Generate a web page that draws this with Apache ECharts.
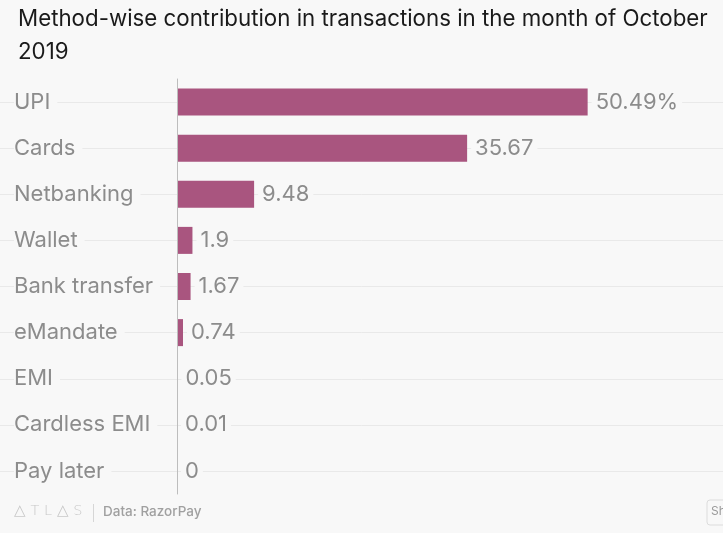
<!DOCTYPE html>
<html><head><meta charset="utf-8">
<script src="https://cdn.jsdelivr.net/npm/echarts@6/dist/echarts.min.js"></script>
<style>html,body{margin:0;padding:0;background:#f8f8f8;}#c{width:723px;height:533px;}</style>
</head><body><div id="c"></div>
<script>
const categories = ['UPI','Cards','Netbanking','Wallet','Bank transfer','eMandate','EMI','Cardless EMI','Pay later'];
const values = [50.49, 35.67, 9.48, 1.9, 1.67, 0.74, 0.05, 0.01, 0];
const titleText = 'Method-wise contribution in transactions in the month of October\n2019';
const sourceText = 'Data: RazorPay';

const bg = '#f8f8f8';
const chart = echarts.init(document.getElementById('c'));
chart.setOption({
  backgroundColor: bg,
  animation: false,
  title: {
    text: titleText, left: 13, top: -2,
    textStyle: {fontFamily: 'Inter', fontSize: 22.3, fontWeight: 'normal', color: '#1a1a1a', lineHeight: 33}
  },
  grid: [
    {left: 177, right: 58, top: 79, bottom: 39},
    {left: 0, right: 0, top: 102, bottom: 62}
  ],
  xAxis: [
    {gridIndex: 0, type: 'value', min: 0, max: 60, show: false},
    {gridIndex: 1, type: 'value', min: 0, max: 1, show: false}
  ],
  yAxis: [
    {gridIndex: 0, type: 'category', data: categories, inverse: true, z: 5,
     axisLine: {show: true, lineStyle: {color: '#bdbdbd', width: 1}},
     axisTick: {show: false}, splitLine: {show: false},
     axisLabel: {align: 'left', margin: 163, color: '#8c8c8c', fontFamily: 'Inter', fontSize: 22, verticalAlign: 'middle',
       backgroundColor: bg, padding: [4, 7, 0, 0]}},
    {gridIndex: 1, type: 'value', min: 0, max: 8, interval: 1, inverse: true, z: 0,
     axisLine: {show: false}, axisTick: {show: false}, axisLabel: {show: false},
     splitLine: {show: true, lineStyle: {color: '#e9e9e9', width: 1}}}
  ],
  series: [{
    type: 'bar', xAxisIndex: 0, yAxisIndex: 0, data: values,
    barWidth: 27, z: 3,
    itemStyle: {color: '#a9557f'},
    label: {show: true, position: 'right', distance: 4, color: '#8c8c8c', fontFamily: 'Inter', fontSize: 22,
      backgroundColor: bg, padding: [3, 4, 0, 4],
      formatter: p => p.dataIndex === 0 ? p.value + '%' : String(p.value)}
  }],
  graphic: [
    {type: 'text', left: 14, top: 504, style: {text: '△ T L △ S', fill: '#c8c8c8', font: '200 14.5px "DejaVu Sans"'}},
    {type: 'rect', shape: {x: 93, y: 504, width: 1, height: 18}, style: {fill: '#d6d6d6'}},
    {type: 'text', left: 103, top: 505, style: {text: sourceText, fill: '#a0a0a0', font: '500 13.5px Inter'}},
    {type: 'rect', shape: {x: 707, y: 500, width: 30, height: 25, r: 3}, style: {fill: '#f8f8f8', stroke: '#dcdcdc'}},
    {type: 'text', left: 711, top: 505, style: {text: 'Sh', fill: '#9a9a9a', font: '12px Inter'}}
  ]
});
</script></body></html>
